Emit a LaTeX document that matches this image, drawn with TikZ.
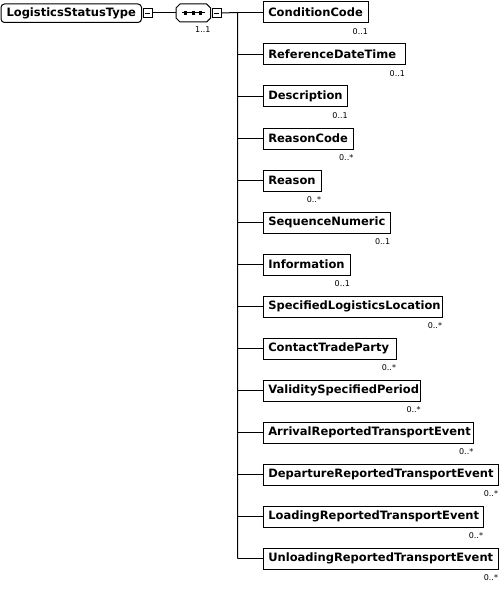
\documentclass[tikz,border=0pt]{standalone}
\usepackage{fontspec}
\setmainfont{DejaVu Sans}
\begin{document}
\begin{tikzpicture}[x=1pt,y=-1pt,
  every node/.style={inner sep=0pt, outer sep=0pt},
  elbox/.style={draw, line width=1pt, minimum height=21pt, inner xsep=5pt, align=left, anchor=west,
     font=\fontsize{11.5}{13}\selectfont\bfseries},
  mult/.style={anchor=east, font=\fontsize{8}{9}\selectfont},
  minusbox/.style={draw, line width=0.8pt, minimum size=9pt, fill=white,
     path picture={\draw[line width=0.8pt] ([xshift=2pt]path picture bounding box.west) -- ([xshift=-2pt]path picture bounding box.east);}},
  conn/.style={line width=1pt}]
\useasboundingbox (0,0) rectangle (500,591);
% root
\node[draw, line width=1pt, rounded corners=3.5pt, minimum width=140.5pt, minimum height=18.5pt,
  font=\fontsize{11.5}{13}\selectfont\bfseries] (root) at (71.25,13.25) {LogisticsStatusType};
\node[minusbox] (rootm) at (147.5,13) {};
% sequence compositor
\node[minimum width=34.7pt, minimum height=18pt] (seq) at (193.35,13) {};
\draw[line width=1pt] ([xshift=4pt]seq.north west) -- ([xshift=-4pt]seq.north east)
  -- ([yshift=-4pt]seq.north east) -- ([yshift=4pt]seq.south east)
  -- ([xshift=-4pt]seq.south east) -- ([xshift=4pt]seq.south west)
  -- ([yshift=4pt]seq.south west) -- ([yshift=-4pt]seq.north west) -- cycle;
\draw[line width=1pt] ([xshift=-11.5pt]seq.center) -- ([xshift=11.5pt]seq.center);
\foreach \dx in {-7.5,0,7.5}
  \fill ([xshift=\dx pt]seq.center) ++(-1.6,-1.6) rectangle ++(3.2,3.2);
\node[minusbox] (seqm) at (216.7,13) {};
\node[mult, anchor=east] (seqmult) at (210.5,30) {1..1};
\draw[conn] (rootm.east) -- (seq.west);
% elements
\coordinate (jt) at (237.5,12.5);
\coordinate (jb) at (237.5,558.5);
\draw[conn] (seqm.east) -- (jt) -- (jb);
\foreach \i/\name/\r/\m in {
  0/ConditionCode/368/0..1,
  1/ReferenceDateTime/405/0..1,
  2/Description/347.7/0..1,
  3/ReasonCode/353.3/0..*,
  4/Reason/321/0..*,
  5/SequenceNumeric/390.3/0..1,
  6/Information/350/0..1,
  7/SpecifiedLogisticsLocation/442/0..*,
  8/ContactTradeParty/396/0..*,
  9/ValiditySpecifiedPeriod/420.7/0..*,
  10/ArrivalReportedTransportEvent/473.3/0..*,
  11/DepartureReportedTransportEvent/498/0..*,
  12/LoadingReportedTransportEvent/483/0..*,
  13/UnloadingReportedTransportEvent/498/0..*}{
  \pgfmathsetmacro\yy{12.5+42*\i}
  \pgfmathsetmacro\tw{\r-263.3-10}
  \node[elbox, text width=\tw pt] (b\i) at (263.3,\yy) {\name};
  \node[mult] (m\i) at ([yshift=-8.5pt]b\i.south east) {\m};
  \coordinate (j\i) at (237.5,\yy);
  \draw[conn] (j\i) -- (b\i.west);
}
\end{tikzpicture}
\end{document}
